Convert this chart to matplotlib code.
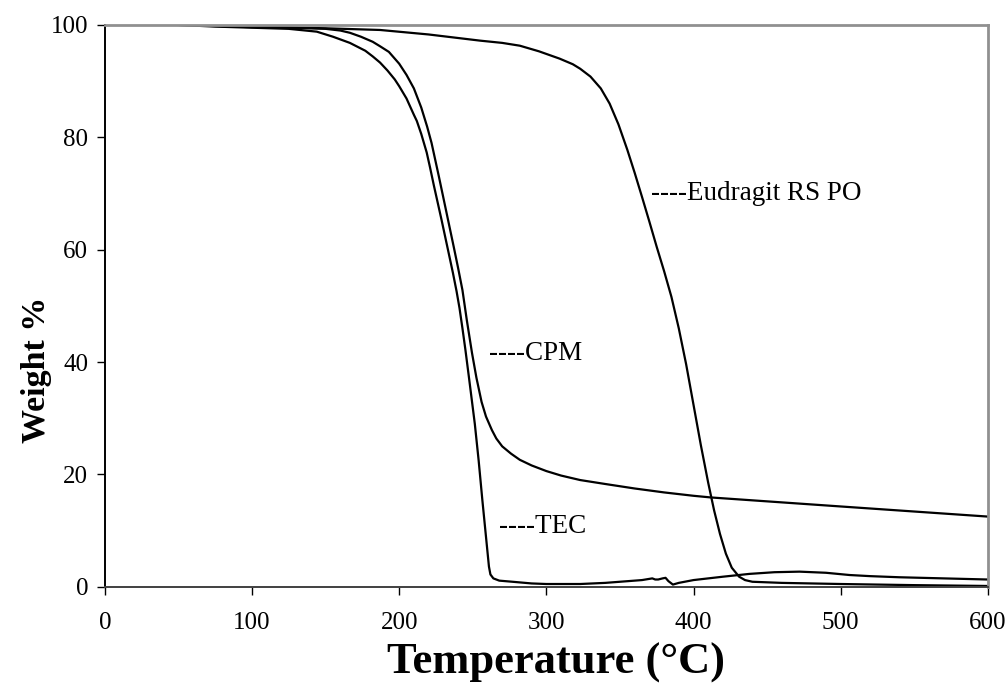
import numpy as np
import matplotlib
matplotlib.use("Agg")
import matplotlib.pyplot as plt

plt.rcParams['font.family'] = ['Liberation Serif', 'DejaVu Serif']

# TGA curves (temperature in C, weight in %)
tec_t = [50, 75, 100, 125, 144, 155, 166.5, 177, 182, 187, 192, 197, 200, 205, 210, 212, 215, 218.7,
         221, 223.6, 228.8, 233.8, 236.5, 239, 241, 243, 245, 247.4, 251.4, 254, 256.5, 261, 262, 264,
         268, 277, 290, 300, 323, 340, 355, 365, 372, 374, 376, 379, 381, 383, 386, 390, 400,
         420, 438, 455, 472, 490, 506, 520, 540, 570, 600]
tec_w = [100, 99.7, 99.5, 99.3, 98.8, 97.9, 96.8, 95.4, 94.4, 93.3, 91.9, 90.3, 89.1, 86.9, 84.0, 82.9, 80.6, 77.3,
         74.6, 71.4, 65.3, 59.2, 55.9, 52.6, 49.6, 46.0, 42.2, 37.3, 29.0, 22.5, 15.5, 3.6, 2.2, 1.5,
         1.1, 0.9, 0.6, 0.5, 0.5, 0.7, 1.0, 1.2, 1.5, 1.3, 1.3, 1.5, 1.6, 1.0, 0.4, 0.7, 1.2,
         1.8, 2.3, 2.6, 2.7, 2.5, 2.1, 1.9, 1.7, 1.5, 1.3]

cpm_t = [50, 75, 100, 125, 150, 160, 166.5, 174, 182, 187, 193, 200, 205, 210, 215, 219, 222,
         227, 232, 237, 240, 243, 246, 249.5, 252.5, 256, 259, 263, 266, 270, 276, 282, 290,
         300, 310, 323, 340, 360, 380, 400, 412, 445, 500, 550, 600]
cpm_w = [100, 99.8, 99.6, 99.5, 99.3, 99.0, 98.6, 97.9, 97.0, 96.2, 95.2, 93.1, 91.1, 88.7, 85.3, 81.9, 79.0,
         73.0, 66.8, 60.6, 56.8, 52.8, 47.4, 41.6, 37.2, 32.9, 30.3, 27.9, 26.4, 25.0, 23.7, 22.6, 21.6,
         20.6, 19.8, 19.0, 18.3, 17.5, 16.8, 16.2, 15.9, 15.3, 14.3, 13.4, 12.5]

eud_t = [50, 100, 150, 187, 220, 255, 270, 282, 295, 309, 318, 323, 330, 337, 343, 349, 355,
         360, 365, 370, 375, 380, 385, 390, 395, 400, 405, 410, 414, 418, 422, 426, 431, 435,
         440, 460, 500, 550, 600]
eud_w = [100, 99.7, 99.4, 99.1, 98.3, 97.2, 96.8, 96.3, 95.3, 94.0, 93.0, 92.2, 90.8, 88.7, 86.0, 82.3, 77.8,
         73.7, 69.4, 65.0, 60.5, 56.2, 51.6, 46.0, 39.6, 32.4, 25.2, 18.5, 13.6, 9.4, 5.9, 3.4, 1.8, 1.2,
         0.9, 0.7, 0.5, 0.3, 0.15]

labels = ['----Eudragit RS PO', '----CPM', '----TEC']
label_xy = [(371, 70), (261, 41.5), (268, 10.8)]

fig = plt.figure(figsize=(10.08, 6.92), dpi=100)
ax = fig.add_axes([0.104, 0.152, 0.876, 0.812])

for t, w in [(eud_t, eud_w), (cpm_t, cpm_w), (tec_t, tec_w)]:
    ax.plot(t, w, color='black', lw=1.6, solid_joinstyle='round')

for txt, (x, y) in zip(labels, label_xy):
    ax.text(x, y, txt, fontsize=19.5, va='center', ha='left')

ax.set_xlim(0, 600)
ax.set_ylim(0, 100)
ax.set_xticks(np.arange(0, 601, 100))
ax.set_yticks(np.arange(0, 101, 20))
ax.tick_params(direction='out', length=6, width=1, labelsize=18, colors='black')
ax.tick_params(axis='x', pad=12)
ax.tick_params(axis='y', pad=6)

ax.spines['left'].set_color('black')
ax.spines['left'].set_linewidth(1.4)
ax.spines['bottom'].set_color('#404040')
ax.spines['bottom'].set_linewidth(1.4)
for s in ['top', 'right']:
    ax.spines[s].set_color('#909090')
    ax.spines[s].set_linewidth(2)

ax.set_xlabel('Temperature (°C)', fontsize=32, fontweight='bold')
ax.xaxis.set_label_coords(0.511, -0.099)
ax.set_ylabel('Weight %', fontsize=24.5, fontweight='bold')
ax.yaxis.set_label_coords(-0.060, 0.386)

fig.savefig('out.png', dpi=100)
